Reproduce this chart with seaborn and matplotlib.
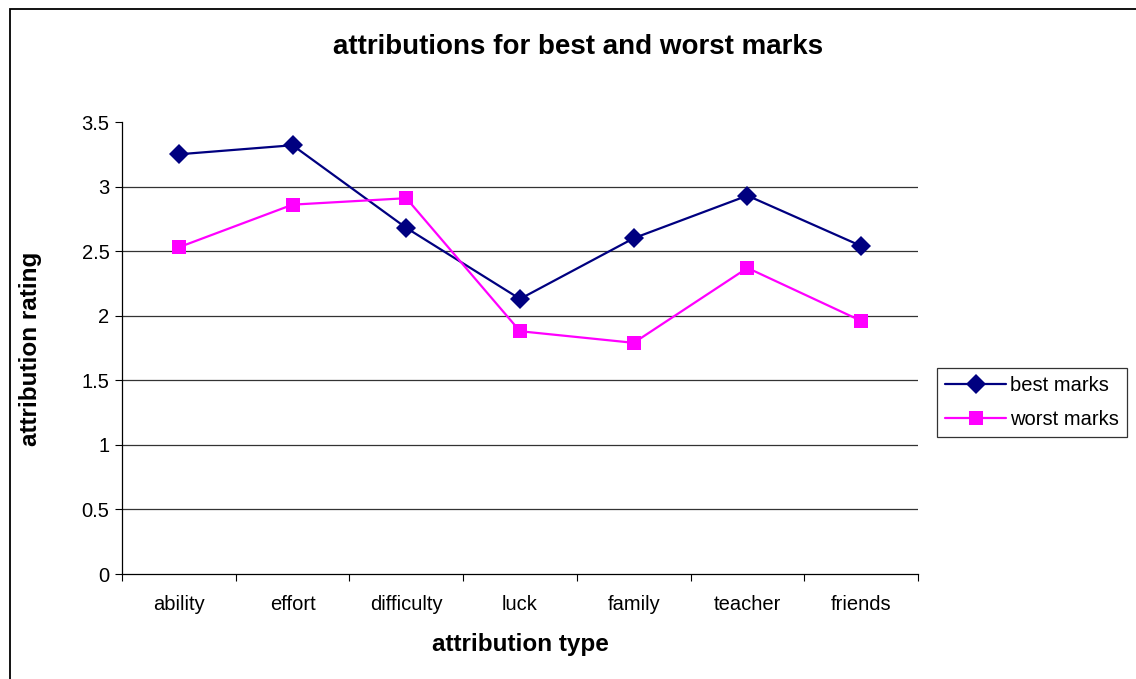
import matplotlib
matplotlib.use("Agg")
import matplotlib.pyplot as plt
from matplotlib.patches import Rectangle
from matplotlib.ticker import FixedLocator
import seaborn as sns
import pandas as pd

categories = ["ability", "effort", "difficulty", "luck", "family", "teacher", "friends"]
best_marks = [3.25, 3.32, 2.68, 2.13, 2.60, 2.93, 2.54]
worst_marks = [2.53, 2.86, 2.91, 1.88, 1.79, 2.37, 1.96]
series_names = ["best marks", "worst marks"]
y_ticks = [0, 0.5, 1, 1.5, 2, 2.5, 3, 3.5]
y_tick_labels = ["0", "0.5", "1", "1.5", "2", "2.5", "3", "3.5"]

df = pd.DataFrame({
    "attribution type": categories * 2,
    "attribution rating": best_marks + worst_marks,
    "series": [series_names[0]] * len(categories) + [series_names[1]] * len(categories),
})

sns.set_style("white")
plt.rcParams["font.family"] = ["Liberation Sans", "DejaVu Sans"]
plt.rcParams["text.color"] = "black"
plt.rcParams["axes.labelcolor"] = "black"
plt.rcParams["xtick.color"] = "black"
plt.rcParams["ytick.color"] = "black"

fig = plt.figure(figsize=(11.36, 6.79), dpi=100)
ax = fig.add_axes([122 / 1136, 1 - 574 / 679, 796 / 1136, 452 / 679])

sns.lineplot(
    data=df, x="attribution type", y="attribution rating",
    hue="series", style="series",
    palette={"best marks": "#000080", "worst marks": "#FF00FF"},
    markers={"best marks": "D", "worst marks": "s"},
    dashes=False, linewidth=1.6, markersize=9.5, markeredgewidth=0,
    sort=False, ax=ax, legend=True,
)
for line in ax.lines:
    if line.get_marker() == "D":
        line.set_markersize(10)
    elif line.get_marker() == "s":
        line.set_markersize(10.5)

ax.set_xlim(-0.5, len(categories) - 0.5)
ax.set_ylim(0, 3.5)
ax.set_yticks(y_ticks)
ax.set_yticklabels(y_tick_labels)
ax.set_xticks(range(len(categories)))
ax.set_xticklabels(categories)
ax.xaxis.set_minor_locator(FixedLocator([i - 0.5 for i in range(len(categories) + 1)]))
ax.tick_params(axis="x", which="major", length=0, pad=15, labelsize=14.5, colors="black")
ax.tick_params(axis="x", which="minor", length=5, width=0.8, direction="out", color="black", bottom=True)
ax.tick_params(axis="y", which="major", length=5, width=0.8, direction="out", left=True, pad=4,
               labelsize=14.5, colors="black")

for v in y_ticks[1:-1]:
    ax.axhline(v, color="#333333", linewidth=0.9, zorder=0)

for side in ["top", "right"]:
    ax.spines[side].set_visible(False)
for side in ["left", "bottom"]:
    ax.spines[side].set_color("black")
    ax.spines[side].set_linewidth(0.9)

ax.set_xlabel("")
ax.set_ylabel("")
fig.text(520 / 1136, 1 - 645 / 679, "attribution type", ha="center", va="center",
         fontsize=17.5, fontweight="bold", color="black")
fig.text(31 / 1136, 1 - 349 / 679, "attribution rating", ha="center", va="center",
         rotation=90, fontsize=17.5, fontweight="bold", color="black")
fig.text(578 / 1136, 1 - 47 / 679, "attributions for best and worst marks", ha="center",
         va="center", fontsize=20, fontweight="bold", color="black")

handles, labels = ax.get_legend_handles_labels()
ax.get_legend().remove()
leg = fig.legend(handles, labels, loc="upper left", bbox_to_anchor=(937 / 1136, 1 - 368 / 679),
                 frameon=True, fancybox=False, edgecolor="black", fontsize=14.5,
                 handlelength=3.0, handletextpad=0.2, borderpad=0.42, labelspacing=0.72,
                 borderaxespad=0)
leg.get_frame().set_linewidth(0.9)

# outer frame around the chart area
fig.patches.append(Rectangle((10 / 1136, -0.05), 1.2, 1 - 9 / 679 + 0.05, transform=fig.transFigure,
                             fill=False, edgecolor="black", linewidth=1.3))

fig.savefig("out.png", dpi=100)
